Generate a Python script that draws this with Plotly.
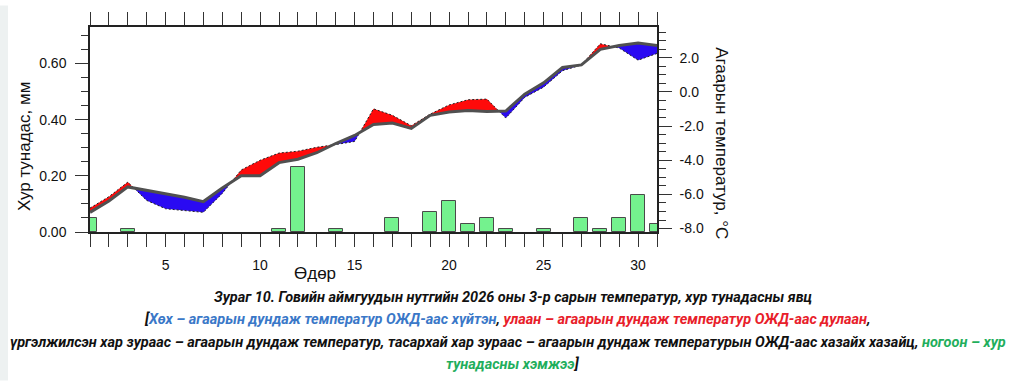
import plotly.graph_objects as go

# ---------------- data ----------------
days = list(range(1, 32))
temp_normal = [-7.05, -6.38, -5.56, -5.75, -5.94, -6.17, -6.42, -5.62, -4.90, -4.90,
               -4.14, -3.94, -3.56, -3.02, -2.55, -1.91, -1.82, -2.14, -1.37, -1.18,
               -1.09, -1.14, -1.12, -0.13, 0.53, 1.43, 1.58, 2.49, 2.72, 2.87, 2.72]
temp_actual = [-6.80, -6.13, -5.28, -6.35, -6.84, -6.93, -7.05, -5.94, -4.57, -4.00,
               -3.58, -3.47, -3.24, -3.08, -2.90, -0.99, -1.37, -1.98, -1.30, -0.76,
               -0.46, -0.42, -1.53, -0.32, 0.28, 1.24, 1.58, 2.82, 2.57, 1.86, 2.25]
precip = [0.05, 0.00, 0.01, 0.00, 0.00, 0.00, 0.00, 0.00, 0.00, 0.00,
          0.01, 0.23, 0.00, 0.01, 0.00, 0.00, 0.05, 0.00, 0.07, 0.11,
          0.03, 0.05, 0.01, 0.00, 0.01, 0.00, 0.05, 0.01, 0.05, 0.13, 0.03]

x_tickvals = [5, 10, 15, 20, 25, 30]
x_ticktext = ["5", "10", "15", "20", "25", "30"]
y_tickvals = [0.0, 0.2, 0.4, 0.6]
y_ticktext = ["0.00", "0.20", "0.40", "0.60"]
y2_tickvals = [-8, -6, -4, -2, 0, 2]
y2_ticktext = ["-8.0", "-6.0", "-4.0", "-2.0", "0.0", "2.0"]

# ---------------- geometry helpers ----------------
W, H = 1024, 384
L, R, T, B = 90, 657, 22, 232


def px_x(px):
    return (px - L) / (R - L)


def px_y(py):
    return (B - py) / (B - T)


# ---------------- anomaly fill polygons ----------------
pts = []
for i in range(len(days)):
    if i > 0:
        d0 = temp_actual[i - 1] - temp_normal[i - 1]
        d1 = temp_actual[i] - temp_normal[i]
        if d0 * d1 < 0:
            t = d0 / (d0 - d1)
            xc = days[i - 1] + t * (days[i] - days[i - 1])
            yc = temp_normal[i - 1] + t * (temp_normal[i] - temp_normal[i - 1])
            pts.append((xc, yc, yc))
    pts.append((days[i], temp_actual[i], temp_normal[i]))

runs = {"pos": [], "neg": []}
cur, cur_sign = [], None
for p in pts:
    d = p[1] - p[2]
    s = None if abs(d) < 1e-9 else ("pos" if d > 0 else "neg")
    if s is None:
        cur.append(p)
        if cur_sign is not None:
            runs[cur_sign].append(cur)
        cur, cur_sign = [p], None
        continue
    if cur_sign is None or s == cur_sign:
        cur.append(p)
        cur_sign = s
    else:
        runs[cur_sign].append(cur)
        cur, cur_sign = [cur[-1], p], s
if cur_sign is not None and len(cur) > 1:
    runs[cur_sign].append(cur)


def poly_xy(run_list):
    xs, ys = [], []
    for run in run_list:
        xs += [p[0] for p in run] + [p[0] for p in reversed(run)] + [None]
        ys += [p[1] for p in run] + [p[2] for p in reversed(run)] + [None]
    return xs, ys


fig = go.Figure()

bar_vals = [v if v > 0 else None for v in precip]
fig.add_trace(go.Bar(
    x=days, y=bar_vals, width=0.75,
    marker=dict(color="#74F28E", line=dict(color="#4a4a4a", width=1)),
    yaxis="y", showlegend=False, hoverinfo="skip"))

for key, col in (("pos", "#FF0A0A"), ("neg", "#2A0AF2")):
    xs, ys = poly_xy(runs[key])
    fig.add_trace(go.Scatter(x=xs, y=ys, yaxis="y2", mode="lines", fill="toself",
                             fillcolor=col, line=dict(width=0, color=col),
                             showlegend=False, hoverinfo="skip"))

fig.add_trace(go.Scatter(x=days, y=temp_actual, yaxis="y2", mode="lines",
                         line=dict(color="#222222", width=1, dash="2px,2px"),
                         showlegend=False, hoverinfo="skip"))
fig.add_trace(go.Scatter(x=days, y=temp_normal, yaxis="y2", mode="lines",
                         line=dict(color="#505050", width=3),
                         showlegend=False, hoverinfo="skip"))

tickfont = dict(family="Liberation Sans, Arial, sans-serif", size=14, color="#111")

fig.update_layout(
    width=W, height=H,
    margin=dict(l=L, r=W - R, t=T, b=H - B, pad=0),
    paper_bgcolor="white", plot_bgcolor="white",
    showlegend=False, bargap=0,
    xaxis=dict(range=[1, 31], tickmode="array", tickvals=x_tickvals, ticktext=x_ticktext,
               ticks="outside", ticklen=13, tickwidth=1, tickcolor="#333",
               minor=dict(ticks="outside", ticklen=8, tickcolor="#333", dtick=1, tick0=0,
                          tickmode="linear", showgrid=False),
               showline=True, linecolor="#222", linewidth=1.5, mirror="allticks",
               showgrid=False, zeroline=False, tickfont=tickfont, ticklabelstandoff=6),
    yaxis=dict(range=[0, 0.73], tickmode="array", tickvals=y_tickvals, ticktext=y_ticktext,
               ticks="outside", ticklen=13, tickwidth=1, tickcolor="#333",
               minor=dict(ticks="outside", ticklen=7, tickcolor="#333", dtick=0.05, tick0=0,
                          tickmode="linear", showgrid=False),
               showline=True, linecolor="#222", linewidth=1.5, mirror=False,
               showgrid=False, zeroline=False, tickfont=tickfont, ticklabelstandoff=6),
    yaxis2=dict(range=[-8.2, 3.8], overlaying="y", side="right", anchor="x",
                tickmode="array", tickvals=y2_tickvals, ticktext=y2_ticktext,
                ticks="outside", ticklen=13, tickwidth=1, tickcolor="#333",
                minor=dict(ticks="outside", ticklen=7, tickcolor="#333", dtick=0.5, tick0=0,
                           tickmode="linear", showgrid=False),
                showline=True, linecolor="#222", linewidth=1.5,
                showgrid=False, zeroline=False, tickfont=tickfont, ticklabelstandoff=5),
)

# light left strip of the page
fig.add_shape(type="rect", xref="paper", yref="paper", x0=px_x(0), x1=px_x(8),
              y0=px_y(H), y1=px_y(0), fillcolor="#EDF1F1", line=dict(width=0), layer="below")

title_font = dict(family="Liberation Sans, Arial, sans-serif", size=17, color="#111")
fig.add_annotation(text="Хур тунадас, мм", textangle=-90, xref="paper", yref="paper",
                   x=px_x(24), y=px_y(145), showarrow=False, font=title_font,
                   xanchor="center", yanchor="middle")
fig.add_annotation(text="Агаарын температур, °C", textangle=90, xref="paper", yref="paper",
                   x=px_x(722), y=px_y(141), showarrow=False, font=title_font,
                   xanchor="center", yanchor="middle")
fig.add_annotation(text="Өдөр", xref="paper", yref="paper",
                   x=px_x(315), y=px_y(274), showarrow=False, font=title_font,
                   xanchor="center", yanchor="middle")

BLUE, RED, GREEN, BLK = "#3A78C8", "#E8202A", "#1FAE5C", "#111111"
cap_font = dict(family="Roboto, sans-serif", size=14.5, color=BLK)
cap_lines = [
    (299, "Зураг 10. Говийн аймгуудын нутгийн 2026 оны 3-р сарын температур, хур тунадасны явц", 513),
    (322, "[<span style='color:%s'>Хөх – агаарын дундаж температур ОЖД-аас хүйтэн</span>, "
          "<span style='color:%s'>улаан – агаарын дундаж температур ОЖД-аас дулаан</span>," % (BLUE, RED), 507),
    (345, "үргэлжилсэн хар зураас – агаарын дундаж температур, тасархай хар зураас – агаарын дундаж "
          "температурын ОЖД-аас хазайх хазайц, <span style='color:%s'>ногоон – хур</span>" % GREEN, 508),
    (368, "<span style='color:%s'>тунадасны хэмжээ</span>]" % GREEN, 513),
]
for yy, txt, xx in cap_lines:
    fig.add_annotation(text="<b><i>" + txt + "</i></b>", xref="paper", yref="paper",
                       x=px_x(xx), y=px_y(yy), showarrow=False, font=cap_font,
                       xanchor="center", yanchor="middle")

fig.write_html("out.html", config={"displayModeBar": False},
               post_script="document.body.style.margin='0';")
